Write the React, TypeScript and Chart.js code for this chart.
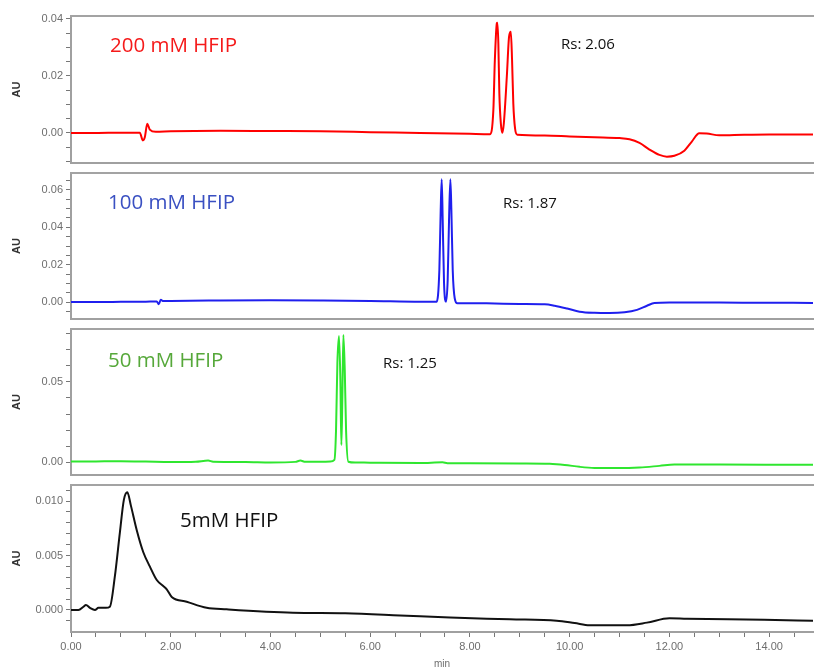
import React, { useEffect, useRef } from "react";
import { Chart, registerables } from "chart.js";

Chart.register(...registerables);

// ---------- shared x axis ----------
const X_MIN = 0;
const X_MAX = 14.88;
const X_TICKS = [0, 0.5, 1, 1.5, 2, 2.5, 3, 3.5, 4, 4.5, 5, 5.5, 6, 6.5, 7, 7.5, 8, 8.5, 9, 9.5, 10, 10.5, 11, 11.5, 12, 12.5, 13, 13.5, 14, 14.5];
const X_LABEL_VALUES = [0, 2, 4, 6, 8, 10, 12, 14];
const X_LABELS = ["0.00", "2.00", "4.00", "6.00", "8.00", "10.00", "12.00", "14.00"];
const X_TITLE = "min";
const Y_TITLE = "AU";

// ---------- 200 mM HFIP (red) ----------
const RED_T = [0, 0.5, 1.0, 1.38, 1.44, 1.48, 1.53, 1.58, 1.7, 2.0, 3.0, 4.0, 5.0, 6.0, 7.0, 8.0, 8.40, 8.47, 8.50, 8.54, 8.55, 8.57, 8.59, 8.62, 8.65, 8.68, 8.74, 8.785, 8.82, 8.845, 8.87, 8.905, 8.95, 9.5, 10.0, 10.5, 11.0, 11.2, 11.4, 11.6, 11.8, 11.95, 12.1, 12.3, 12.45, 12.6, 12.75, 13.0, 13.5, 14.0, 14.9];
const RED_AU = [0, 0, 0.0001, 0.0001, -0.0026, -0.0015, 0.0032, 0.0012, 0.0004, 0.0006, 0.0008, 0.0007, 0.0006, 0.0003, 0.0, -0.0003, -0.0004, 0.0081, 0.0256, 0.0385, 0.0387, 0.0315, 0.0139, 0.0034, 0.0001, 0.0034, 0.0198, 0.0338, 0.0355, 0.0256, 0.0104, 0.0016, -0.0006, -0.0009, -0.0012, -0.0015, -0.0018, -0.0022, -0.0035, -0.0058, -0.0077, -0.0083, -0.0080, -0.0062, -0.0030, -0.0001, -0.0002, -0.0008, -0.0006, -0.0005, -0.0005];
const RED_Y_TICKS = [-0.01, -0.005, 0, 0.005, 0.01, 0.015, 0.02, 0.025, 0.03, 0.035, 0.04];
const RED_Y_LABEL_VALUES = [0, 0.02, 0.04];
const RED_Y_LABELS = ["0.00", "0.02", "0.04"];

// ---------- 100 mM HFIP (blue) ----------
const BLUE_T = [0, 0.5, 1.0, 1.5, 1.72, 1.76, 1.80, 1.85, 2.0, 3.0, 4.0, 5.0, 6.0, 7.0, 7.334, 7.387, 7.414, 7.434, 7.454, 7.481, 7.521, 7.554, 7.581, 7.608, 7.628, 7.655, 7.695, 7.748, 8.0, 8.5, 9.0, 9.5, 9.7, 9.95, 10.2, 10.5, 10.8, 11.1, 11.35, 11.55, 11.7, 12.0, 13.0, 14.0, 14.9];
const BLUE_AU = [0, 0, 0.0001, 0.0002, 0.0003, -0.0012, 0.0012, 0.0005, 0.0006, 0.0008, 0.0009, 0.0008, 0.0006, 0.0002, 0.0002, 0.0171, 0.0493, 0.0657, 0.0439, 0.0100, 0.0002, 0.0118, 0.0439, 0.0657, 0.0493, 0.0171, 0.0020, -0.0007, -0.0006, -0.0008, -0.0010, -0.0012, -0.0020, -0.0035, -0.0052, -0.0058, -0.0059, -0.0055, -0.0042, -0.0020, -0.0005, -0.0002, -0.0003, -0.0004, -0.0005];
const BLUE_Y_TICKS = [-0.005, 0, 0.005, 0.01, 0.015, 0.02, 0.025, 0.03, 0.035, 0.04, 0.045, 0.05, 0.055, 0.06, 0.065];
const BLUE_Y_LABEL_VALUES = [0, 0.02, 0.04, 0.06];
const BLUE_Y_LABELS = ["0.00", "0.02", "0.04", "0.06"];

// ---------- 50 mM HFIP (green) ----------
const GREEN_T = [0, 0.5, 1.0, 1.5, 2.0, 2.5, 2.75, 2.85, 3.5, 4.0, 4.5, 4.6, 4.7, 5.0, 5.2, 5.282, 5.315, 5.342, 5.375, 5.402, 5.422, 5.442, 5.462, 5.49, 5.516, 5.562, 5.7, 6.0, 7.0, 7.45, 7.55, 8.0, 9.0, 9.6, 9.9, 10.2, 10.5, 11.0, 11.4, 11.8, 12.1, 12.5, 13.0, 14.0, 14.9];
const GREEN_AU = [0.0003, 0.0004, 0.0005, 0.0003, 0.0, 0.0002, 0.0009, 0.0002, 0.0, -0.0003, 0.0001, 0.0009, 0.0001, 0.0002, 0.0003, 0.0013, 0.020, 0.0617, 0.0788, 0.0513, 0.0106, 0.0408, 0.0794, 0.0575, 0.020, 0.0002, -0.0003, -0.0004, -0.0006, -0.0002, -0.0007, -0.0008, -0.0009, -0.0011, -0.0018, -0.0030, -0.0037, -0.0038, -0.0034, -0.0024, -0.0016, -0.0015, -0.0016, -0.0017, -0.0017];
const GREEN_Y_TICKS = [0, 0.01, 0.02, 0.03, 0.04, 0.05, 0.06, 0.07, 0.08];
const GREEN_Y_LABEL_VALUES = [0, 0.05];
const GREEN_Y_LABELS = ["0.00", "0.05"];

// ---------- 5 mM HFIP (black) ----------
const BLACK_T = [0, 0.15, 0.25, 0.3, 0.38, 0.48, 0.55, 0.7, 0.78, 0.88, 0.98, 1.06, 1.13, 1.2, 1.32, 1.45, 1.58, 1.72, 1.85, 1.92, 2.02, 2.32, 2.72, 3.12, 4.45, 5.5, 6.6, 7.6, 8.8, 9.74, 10.1, 10.4, 11.15, 11.55, 12.0, 12.35, 13.9, 14.9];
const BLACK_AU = [0, 0, 0.0003, 0.00046, 0.0002, 0.0, 0.0002, 0.0002, 0.0003, 0.0031, 0.0071, 0.0101, 0.0108, 0.0096, 0.0073, 0.0053, 0.0040, 0.00275, 0.0022, 0.0019, 0.0012, 0.00076, 0.0002, 0.00006, -0.00025, -0.0003, -0.0005, -0.0007, -0.00085, -0.00098, -0.0012, -0.0014, -0.0014, -0.00116, -0.00076, -0.0008, -0.0009, -0.001];
const BLACK_Y_TICKS = [-0.001, 0, 0.001, 0.002, 0.003, 0.004, 0.005, 0.006, 0.007, 0.008, 0.009, 0.01, 0.011];
const BLACK_Y_LABEL_VALUES = [0, 0.005, 0.01];
const BLACK_Y_LABELS = ["0.000", "0.005", "0.010"];

// ---------- annotations ----------
const SERIES_NAMES = ["200 mM HFIP", "100 mM HFIP", "50 mM HFIP", "5mM HFIP"];
const RS_TEXTS = ["Rs: 2.06", "Rs: 1.87", "Rs: 1.25"];

// ---------- layout & styles (not data) ----------
const W = 814;
const H = 672;
const AXIS_LEFT = 71;
const PANELS = [
  { t: RED_T, v: RED_AU, ticks: RED_Y_TICKS, lv: RED_Y_LABEL_VALUES, lb: RED_Y_LABELS, min: -0.01053, max: 0.04105, top: 16, bottom: 163, color: "#ff0000" },
  { t: BLUE_T, v: BLUE_AU, ticks: BLUE_Y_TICKS, lv: BLUE_Y_LABEL_VALUES, lb: BLUE_Y_LABELS, min: -0.0091, max: 0.0691, top: 173, bottom: 319, color: "#1f1fee" },
  { t: GREEN_T, v: GREEN_AU, ticks: GREEN_Y_TICKS, lv: GREEN_Y_LABEL_VALUES, lb: GREEN_Y_LABELS, min: -0.0081, max: 0.0831, top: 329, bottom: 475, color: "#2fe62f" },
  { t: BLACK_T, v: BLACK_AU, ticks: BLACK_Y_TICKS, lv: BLACK_Y_LABEL_VALUES, lb: BLACK_Y_LABELS, min: -0.00202, max: 0.01147, top: 485, bottom: 632, color: "#111111" },
];
const NAME_STYLE = [
  { left: 110, cy: 45, color: "#f51a1a" },
  { left: 108, cy: 202, color: "#3a50c2" },
  { left: 108, cy: 360, color: "#56a83a" },
  { left: 180, cy: 520, color: "#111111" },
];
const RS_STYLE = [
  { left: 561, cy: 44 },
  { left: 503, cy: 203 },
  { left: 383, cy: 363 },
];
const NAME_FS = 20.5;
const RS_FS = 15;

const labelFor = (values: number[], labels: string[], v: number) => {
  for (let i = 0; i < values.length; i++) if (Math.abs(values[i] - v) < 1e-9) return labels[i];
  return "";
};

const topFrame = {
  id: "topFrame",
  afterDraw(chart: any) {
    const { ctx, chartArea } = chart;
    ctx.save();
    ctx.strokeStyle = "#a3a3a3";
    ctx.lineWidth = 2;
    ctx.beginPath();
    ctx.moveTo(chartArea.left - 1, chartArea.top);
    ctx.lineTo(W, chartArea.top);
    ctx.stroke();
    ctx.restore();
  },
};

function PanelChart({ idx }: { idx: number }) {
  const ref = useRef<HTMLCanvasElement | null>(null);
  useEffect(() => {
    const p = PANELS[idx];
    const isLast = idx === PANELS.length - 1;
    const xh = isLast ? H - p.bottom : 0;
    const tickFont = { family: "'Liberation Sans', Arial, sans-serif", size: 11 };
    const chart = new Chart(ref.current as HTMLCanvasElement, {
      type: "line",
      data: {
        datasets: [
          {
            data: p.t.map((x, i) => ({ x, y: p.v[i] })),
            borderColor: p.color,
            borderWidth: 2,
            pointRadius: 0,
            fill: false,
            cubicInterpolationMode: "monotone",
          } as any,
        ],
      },
      options: {
        responsive: false,
        animation: false,
        devicePixelRatio: 1,
        layout: { padding: { top: p.top, bottom: H - p.bottom - xh, left: 0, right: W - 813 } },
        plugins: { legend: { display: false }, tooltip: { enabled: false } },
        scales: {
          x: {
            type: "linear",
            min: X_MIN,
            max: X_MAX,
            afterBuildTicks: (s: any) => {
              s.ticks = X_TICKS.map((v) => ({ value: v }));
            },
            afterFit: (s: any) => {
              s.height = xh;
            },
            ticks: {
              display: isLast,
              autoSkip: false,
              maxRotation: 0,
              padding: 3,
              color: "#6e6e6e",
              font: tickFont,
              callback: (v: any) => labelFor(X_LABEL_VALUES, X_LABELS, Number(v)),
            },
            grid: { display: isLast, drawOnChartArea: false, drawTicks: isLast, tickLength: 5, tickColor: "#777", tickWidth: 1 },
            border: { display: true, color: "#a0a0a0", width: 2 },
            title: { display: isLast, text: X_TITLE, color: "#6e6e6e", font: { family: "'Liberation Sans', Arial, sans-serif", size: 10 }, padding: { top: 0, bottom: 2 } },
          },
          y: {
            type: "linear",
            min: p.min,
            max: p.max,
            afterBuildTicks: (s: any) => {
              s.ticks = p.ticks.map((v) => ({ value: v }));
            },
            afterFit: (s: any) => {
              s.width = AXIS_LEFT;
            },
            ticks: {
              autoSkip: false,
              padding: 3,
              color: "#6e6e6e",
              font: tickFont,
              callback: (v: any) => labelFor(p.lv, p.lb, Number(v)),
            },
            grid: { display: true, drawOnChartArea: false, drawTicks: true, tickLength: 5, tickColor: "#777", tickWidth: 1 },
            border: { display: true, color: "#a0a0a0", width: 2 },
            title: { display: true, text: Y_TITLE, color: "#333", font: { family: "'Liberation Sans', Arial, sans-serif", size: 11, weight: "bold" }, padding: { top: 10, bottom: 0 } },
          },
        },
      } as any,
      plugins: [topFrame],
    });
    return () => chart.destroy();
  }, [idx]);
  return (
    <canvas
      ref={ref}
      width={W}
      height={H}
      style={{ position: "absolute", left: 0, top: 0, width: W, height: H, display: "block" }}
    />
  );
}

export default function App() {
  const font = "'Open Sans', 'Noto Sans', sans-serif";
  return (
    <div style={{ position: "fixed", left: 0, top: 0, width: W, height: H, background: "#fff", overflow: "hidden" }}>
      {PANELS.map((_, i) => (
        <PanelChart key={i} idx={i} />
      ))}
      {SERIES_NAMES.map((name, i) => (
        <div
          key={name}
          style={{
            position: "absolute",
            left: NAME_STYLE[i].left,
            top: NAME_STYLE[i].cy - NAME_FS * 0.53,
            fontFamily: font,
            fontSize: NAME_FS,
            lineHeight: `${NAME_FS}px`,
            color: NAME_STYLE[i].color,
            whiteSpace: "nowrap",
          }}
        >
          {name}
        </div>
      ))}
      {RS_TEXTS.map((txt, i) => (
        <div
          key={txt}
          style={{
            position: "absolute",
            left: RS_STYLE[i].left,
            top: RS_STYLE[i].cy - RS_FS * 0.53,
            fontFamily: font,
            fontSize: RS_FS,
            lineHeight: `${RS_FS}px`,
            color: "#111",
            whiteSpace: "nowrap",
          }}
        >
          {txt}
        </div>
      ))}
    </div>
  );
}
